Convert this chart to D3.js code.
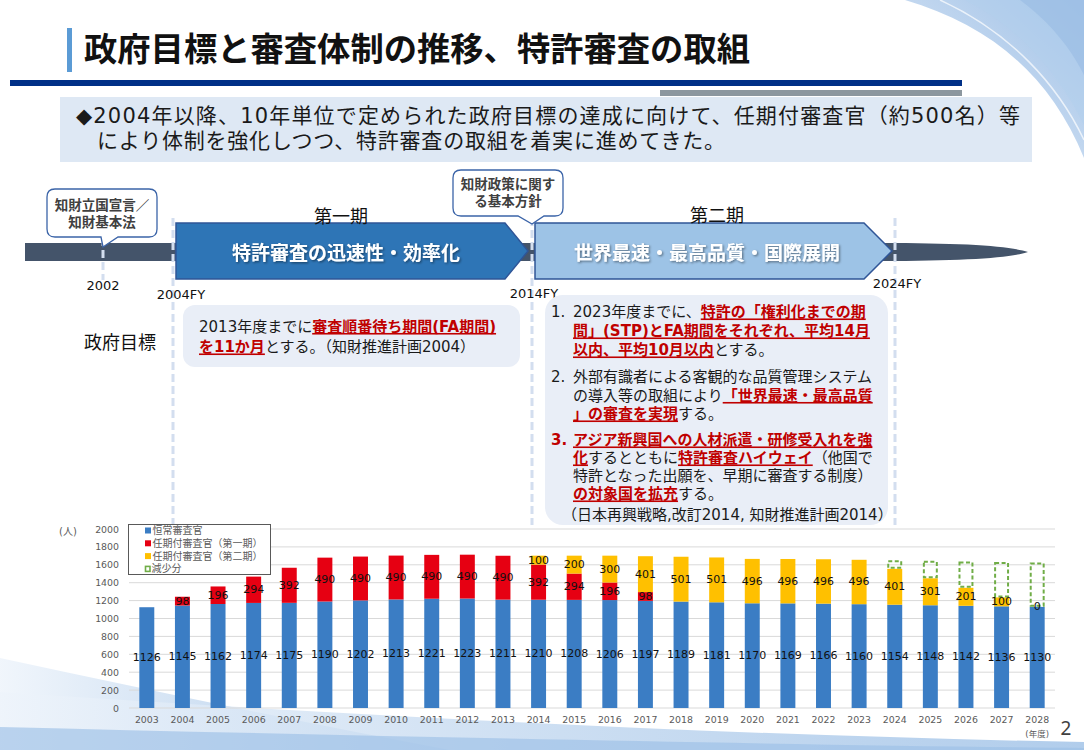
<!DOCTYPE html>
<html><head><meta charset="utf-8">
<script src="https://cdn.jsdelivr.net/npm/d3@7"></script>
<style>
html,body{margin:0;padding:0;background:#fff;}
svg{display:block;font-family:"DejaVu Sans","Noto Sans CJK JP",sans-serif;}
</style></head><body>
<svg id="s" width="1084" height="750"></svg>
<script>
// ---------------- DATA ----------------
const years = ["2003","2004","2005","2006","2007","2008","2009","2010","2011","2012","2013","2014","2015","2016","2017","2018","2019","2020","2021","2022","2023","2024","2025","2026","2027","2028"];
const regular = [1126,1145,1162,1174,1175,1190,1202,1213,1221,1223,1211,1210,1208,1206,1197,1189,1181,1170,1169,1166,1160,1154,1148,1142,1136,1130];
const firstTerm = [null,98,196,294,392,490,490,490,490,490,490,392,294,196,98,null,null,null,null,null,null,null,null,null,null,null];
const secondTerm = [null,null,null,null,null,null,null,null,null,null,null,100,200,300,401,501,501,496,496,496,496,401,301,201,100,0];
const reduction = [null,null,null,null,null,null,null,null,null,null,null,null,null,null,null,null,null,null,null,null,null,95,195,295,396,496];
const yTicks = [0,200,400,600,800,1000,1200,1400,1600,1800,2000];
const seriesNames = ["恒常審査官","任期付審査官（第一期）","任期付審査官（第二期）","減少分"];
const seriesKeys = ["regular","first","second","reduction"];
const seriesColors = ["#3B7DC4","#E60012","#FFC000","#70AD47"];

// ---------------- SETUP ----------------
const svg = d3.select("#s");
const RED = "#C00000";
const CJK = "'Noto Sans CJK JP',sans-serif";
const BODY = "'DejaVu Sans','Noto Sans CJK JP',sans-serif";
const defs = svg.append("defs");
const gTR = defs.append("linearGradient").attr("id","gTR").attr("x1","0").attr("y1","1").attr("x2","1").attr("y2","0");
gTR.append("stop").attr("offset","0").attr("stop-color","#E6EFF9");
gTR.append("stop").attr("offset","1").attr("stop-color","#9FC0E6");
const gBL = defs.append("linearGradient").attr("id","gBL").attr("x1","0").attr("y1","0").attr("x2","1").attr("y2","0");
gBL.append("stop").attr("offset","0").attr("stop-color","#EEF4FB");
gBL.append("stop").attr("offset","0.5").attr("stop-color","#C4D9F0");
gBL.append("stop").attr("offset","1").attr("stop-color","#A3C4E8");
const sh = defs.append("filter").attr("id","sh").attr("x","-10%").attr("y","-30%").attr("width","120%").attr("height","160%");
sh.append("feDropShadow").attr("dx",1.2).attr("dy",1.2).attr("stdDeviation",0.8).attr("flood-color","#000").attr("flood-opacity",0.45);

// background decorations
const bg = svg.append("g");
bg.append("path").attr("d","M905,0 C990,25 1050,75 1084,158 L1084,0 Z").attr("fill","url(#gTR)");
bg.append("path").attr("d","M965,0 C1025,30 1062,80 1084,125 L1084,0 Z").attr("fill","#B3CFEC").attr("opacity",0.55);
bg.append("path").attr("d","M1020,0 C1050,22 1072,50 1084,75 L1084,0 Z").attr("fill","#93B8E2").attr("opacity",0.5);
bg.append("path").attr("d","M940,0 C1010,32 1058,85 1084,140").attr("fill","none").attr("stroke","#fff").attr("stroke-width",1.5).attr("opacity",0.7);
bg.append("path").attr("d","M0,658 C150,690 300,722 450,750 L0,750 Z").attr("fill","url(#gBL)").attr("opacity",0.85);
bg.append("path").attr("d","M0,692 C300,712 700,735 1084,742 L1084,750 L0,750 Z").attr("fill","url(#gBL)").attr("opacity",0.85);
bg.append("path").attr("d","M0,727 C400,737 800,745 1084,748 L1084,750 L0,750 Z").attr("fill","#9DC0E6").attr("opacity",0.65);

// ---------------- HEADER ----------------
svg.append("rect").attr("x",67).attr("y",28).attr("width",5).attr("height",44).attr("fill","#5B9BD5");
svg.append("text").attr("x",84).attr("y",47).attr("dominant-baseline","central").attr("font-family",CJK)
  .attr("font-size",33).attr("font-weight",700).attr("fill","#111")
  .attr("textLength",666).attr("lengthAdjust","spacingAndGlyphs")
  .text("政府目標と審査体制の推移、特許審査の取組");
svg.append("rect").attr("x",10).attr("y",80).attr("width",952).attr("height",6).attr("fill","#003087");
svg.append("rect").attr("x",660).attr("y",90).attr("width",302).attr("height",6).attr("fill","#8C979F");
svg.append("rect").attr("x",60).attr("y",97).attr("width",972).attr("height",65).attr("fill","#DEE8F4");
svg.append("text").attr("x",76).attr("y",116).attr("dominant-baseline","central").attr("font-size",21).attr("fill","#1a1a1a")
  .attr("textLength",944).attr("lengthAdjust","spacing")
  .text("◆2004年以降、10年単位で定められた政府目標の達成に向けて、任期付審査官（約500名）等");
svg.append("text").attr("x",97).attr("y",141).attr("dominant-baseline","central").attr("font-size",21).attr("fill","#1a1a1a")
  .attr("textLength",628).attr("lengthAdjust","spacing")
  .text("により体制を強化しつつ、特許審査の取組を着実に進めてきた。");

// ---------------- TIMELINE ----------------
const tl = svg.append("g");
tl.append("rect").attr("x",25).attr("y",243).attr("width",870).attr("height",18).attr("fill","#44546A");
tl.append("path").attr("d","M880,243 C965,243 1010,246 1028,252 C1010,258 965,261 880,261 Z").attr("fill","#44546A");
const dash = (x,y1,y2)=>tl.append("line").attr("x1",x).attr("x2",x).attr("y1",y1).attr("y2",y2)
  .attr("stroke","#D3DEEF").attr("stroke-width",3).attr("stroke-dasharray","8,4");
dash(103,238,280); dash(173,218,525); dash(532,218,525); dash(895,218,525);
tl.append("path").attr("d","M176,223 L505,223 L528,251 L505,279 L176,279 Z").attr("fill","#2E75B6").attr("stroke","#2F5597").attr("stroke-width",1.5);
tl.append("path").attr("d","M535,223 L864,223 L892,251 L864,279 L535,279 Z").attr("fill","#9DC3E6").attr("stroke","#2F5597").attr("stroke-width",1.5);
tl.append("text").attr("x",346).attr("y",251).attr("dominant-baseline","central").attr("text-anchor","middle").attr("font-family",CJK)
  .attr("font-size",19).attr("font-weight",700).attr("fill","#fff").attr("filter","url(#sh)").text("特許審査の迅速性・効率化");
tl.append("text").attr("x",707).attr("y",251).attr("dominant-baseline","central").attr("text-anchor","middle").attr("font-family",CJK)
  .attr("font-size",19).attr("font-weight",700).attr("fill","#fff").attr("filter","url(#sh)").text("世界最速・最高品質・国際展開");
tl.append("text").attr("x",341).attr("y",215).attr("dominant-baseline","central").attr("text-anchor","middle").attr("font-family",CJK).attr("font-size",18).attr("fill","#111").text("第一期");
tl.append("text").attr("x",717).attr("y",214).attr("dominant-baseline","central").attr("text-anchor","middle").attr("font-family",CJK).attr("font-size",18).attr("fill","#111").text("第二期");
// callouts
tl.append("path").attr("d","M55,189 H149 Q157,189 157,197 V229 Q157,237 149,237 H118 L103,247 L101,237 H55 Q47,237 47,229 V197 Q47,189 55,189 Z")
  .attr("fill","#fff").attr("stroke","#3B64A8").attr("stroke-width",1.3);
tl.append("text").attr("x",102).attr("y",205).attr("dominant-baseline","central").attr("text-anchor","middle").attr("font-family",BODY).attr("font-size",13.5).attr("font-weight",700).attr("fill","#404040").text("知財立国宣言／");
tl.append("text").attr("x",102).attr("y",222).attr("dominant-baseline","central").attr("text-anchor","middle").attr("font-family",BODY).attr("font-size",13.5).attr("font-weight",700).attr("fill","#404040").text("知財基本法");
tl.append("path").attr("d","M461,170 H555 Q563,170 563,178 V208 Q563,216 555,216 H544 L532,224 L518,216 H461 Q453,216 453,208 V178 Q453,170 461,170 Z")
  .attr("fill","#fff").attr("stroke","#3B64A8").attr("stroke-width",1.3);
tl.append("text").attr("x",508).attr("y",184).attr("dominant-baseline","central").attr("text-anchor","middle").attr("font-family",BODY).attr("font-size",13.5).attr("font-weight",700).attr("fill","#404040").text("知財政策に関す");
tl.append("text").attr("x",508).attr("y",201).attr("dominant-baseline","central").attr("text-anchor","middle").attr("font-family",BODY).attr("font-size",13.5).attr("font-weight",700).attr("fill","#404040").text("る基本方針");
[["2002",103,285],["2004FY",181,294],["2014FY",534,293],["2024FY",897,283]].forEach(d=>{
  tl.append("text").attr("x",d[1]).attr("y",d[2]).attr("dominant-baseline","central").attr("text-anchor","middle").attr("font-size",13).attr("fill","#111").text(d[0]);
});
tl.append("text").attr("x",120).attr("y",341).attr("dominant-baseline","central").attr("text-anchor","middle").attr("font-family",CJK).attr("font-size",18).attr("fill","#111").text("政府目標");

// ---------------- TEXT BOXES ----------------
function rich(g, x, y, segs, size){
  let cx = x;
  segs.forEach(s=>{
    const t = g.append("text").attr("x",cx).attr("y",y).attr("dominant-baseline","central").attr("font-family",BODY)
      .attr("font-size",size).attr("font-weight",s.b?700:400).attr("fill",s.r?RED:"#1a1a1a").text(s.t);
    const w = t.node().getComputedTextLength();
    if(s.r) g.append("rect").attr("x",cx).attr("y",y+size*0.43).attr("width",w).attr("height",1.6).attr("fill",RED);
    cx += w;
  });
}
const tb = svg.append("g");
tb.append("rect").attr("x",183).attr("y",305).attr("width",337).attr("height",62).attr("rx",12).attr("fill","#E9EEF7");
rich(tb,199,326.5,[{t:"2013年度までに"},{t:"審査順番待ち期間(FA期間)",b:1,r:1}],15);
rich(tb,199,347,[{t:"を11か月",b:1,r:1},{t:"とする。（知財推進計画2004）"}],15);

tb.append("rect").attr("x",545).attr("y",295).attr("width",343).attr("height",230).attr("rx",18).attr("fill","#E9EEF7");
const fs2 = 15, bx = 573;
const nums = [["1.",312,0],["2.",377,0],["3.",440,1]];
nums.forEach(n=>tb.append("text").attr("x",551).attr("y",n[1]).attr("dominant-baseline","central").attr("font-size",fs2)
  .attr("font-weight",n[2]?700:400).attr("fill",n[2]?RED:"#1a1a1a").text(n[0]));
rich(tb,bx,312,[{t:"2023年度までに、"},{t:"特許の「権利化までの期",b:1,r:1}],fs2);
rich(tb,bx,331,[{t:"間」(STP)とFA期間をそれぞれ、平均14月",b:1,r:1}],fs2);
rich(tb,bx,350,[{t:"以内、平均10月以内",b:1,r:1},{t:"とする。"}],fs2);
rich(tb,bx,377,[{t:"外部有識者による客観的な品質管理システム"}],fs2);
rich(tb,bx,395.5,[{t:"の導入等の取組により"},{t:"「世界最速・最高品質",b:1,r:1}],fs2);
rich(tb,bx,414,[{t:"」の審査を実現",b:1,r:1},{t:"する。"}],fs2);
rich(tb,bx,440,[{t:"アジア新興国への人材派遣・研修受入れを強",b:1,r:1}],fs2);
rich(tb,bx,458,[{t:"化",b:1,r:1},{t:"するとともに"},{t:"特許審査ハイウェイ",b:1,r:1},{t:"（他国で"}],fs2);
rich(tb,bx,476,[{t:"特許となった出願を、早期に審査する制度）"}],fs2);
rich(tb,bx,494,[{t:"の対象国を拡充",b:1,r:1},{t:"する。"}],fs2);
rich(tb,562,515,[{t:"（日本再興戦略,改訂2014, 知財推進計画2014）"}],fs2);

// ---------------- CHART ----------------
const x = d3.scaleBand().domain(years).range([129,1055]).paddingInner(0.58).paddingOuter(0.29);
const y = d3.scaleLinear().domain([0,2000]).range([708,529]);
const ch = svg.append("g").attr("font-family","DejaVu Sans, sans-serif");

ch.selectAll("line.grid").data(yTicks).join("line").attr("class","grid")
  .attr("x1",x.range()[0]).attr("x2",x.range()[1]).attr("y1",d=>y(d)).attr("y2",d=>y(d))
  .attr("stroke","#D9D9D9").attr("stroke-width",1);

const yAxis = ch.append("g").attr("transform",`translate(${x.range()[0]-10},0)`)
  .call(d3.axisLeft(y).tickValues(yTicks).tickFormat(d3.format("d")).tickSize(0).tickPadding(0));
yAxis.select(".domain").remove();
yAxis.selectAll("text").attr("font-size",9.4).attr("fill","#595959").attr("font-family","DejaVu Sans, sans-serif");

const xAxis = ch.append("g").attr("transform",`translate(0,${y(0)+8})`)
  .call(d3.axisBottom(x).tickSize(0).tickPadding(0));
xAxis.select(".domain").remove();
xAxis.selectAll("text").attr("font-size",9.4).attr("fill","#595959").attr("font-family","DejaVu Sans, sans-serif");
ch.append("text").attr("x",x("2028")+x.bandwidth()/2).attr("y",734).attr("text-anchor","middle").attr("dominant-baseline","central")
  .attr("font-size",8.5).attr("fill","#595959").attr("font-family",BODY).text("(年度)");
ch.append("text").attr("x",68).attr("y",531).attr("text-anchor","middle").attr("dominant-baseline","central")
  .attr("font-size",10).attr("fill","#595959").attr("font-family",BODY).text("(人)");

const table = years.map((yr,i)=>({year:yr, regular:regular[i], first:firstTerm[i]||0, second:secondTerm[i]||0, reduction:reduction[i]||0,
  raw:{regular:regular[i], first:firstTerm[i], second:secondTerm[i], reduction:reduction[i]}}));
const stacked = d3.stack().keys(seriesKeys)(table);

stacked.slice(0,3).forEach((s,k)=>{
  ch.append("g").selectAll("rect").data(s.filter(d=>d[1]>d[0])).join("rect")
    .attr("x",d=>x(d.data.year)).attr("width",x.bandwidth())
    .attr("y",d=>y(d[1])).attr("height",d=>y(d[0])-y(d[1]))
    .attr("fill",seriesColors[k]);
});
ch.append("g").selectAll("rect").data(stacked[3].filter(d=>d[1]>d[0])).join("rect")
  .attr("x",d=>x(d.data.year)+1).attr("width",x.bandwidth()-2)
  .attr("y",d=>y(d[1])+1).attr("height",d=>y(d[0])-y(d[1])-2)
  .attr("fill","none").attr("stroke",seriesColors[3]).attr("stroke-width",2).attr("stroke-dasharray","4,2.5");

stacked.slice(0,3).forEach((s,k)=>{
  ch.append("g").selectAll("text").data(s.filter(d=>d.data.raw[seriesKeys[k]]!=null)).join("text")
    .attr("x",d=>x(d.data.year)+x.bandwidth()/2).attr("y",d=>y((d[0]+d[1])/2))
    .attr("text-anchor","middle").attr("dominant-baseline","central")
    .attr("font-size",11).attr("fill","#111").text(d=>d.data.raw[seriesKeys[k]]);
});

// legend
const lg = ch.append("g");
lg.append("rect").attr("x",128.5).attr("y",524.5).attr("width",142).attr("height",50).attr("fill","#fff").attr("stroke","#595959").attr("stroke-width",1);
seriesNames.forEach((n,i)=>{
  const yy = 530.5 + i*12.8;
  if(i<3){
    lg.append("rect").attr("x",145).attr("y",yy-3).attr("width",6).attr("height",6).attr("fill",seriesColors[i]);
    lg.append("text").attr("x",152.5).attr("y",yy).attr("dominant-baseline","central").attr("font-size",10).attr("fill","#595959").attr("font-family",BODY).text(n);
  } else {
    lg.append("rect").attr("x",145.5).attr("y",yy-2.5).attr("width",4.5).attr("height",5).attr("fill","none").attr("stroke",seriesColors[3]).attr("stroke-width",1.6);
    lg.append("text").attr("x",151.5).attr("y",yy).attr("dominant-baseline","central").attr("font-size",10).attr("fill","#595959").attr("font-family",BODY).text(n);
  }
});

svg.append("text").attr("x",1066).attr("y",728).attr("text-anchor","middle").attr("dominant-baseline","central")
  .attr("font-size",19).attr("fill","#404040").attr("font-family","Noto Sans").text("2");
</script>
</body></html>
